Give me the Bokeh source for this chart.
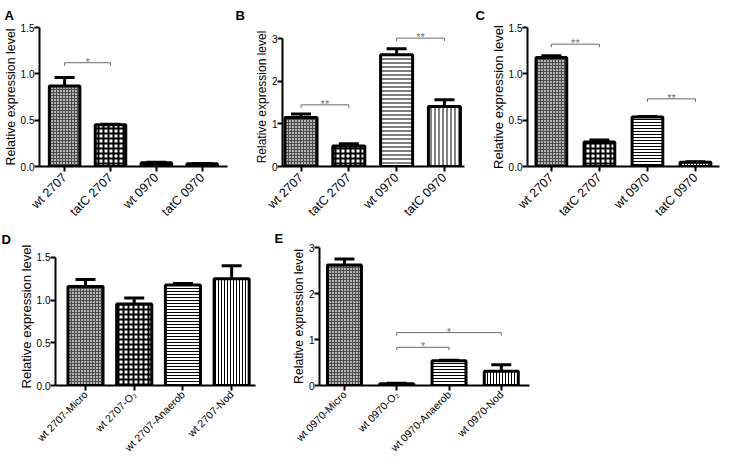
import math
from bokeh.plotting import figure
from bokeh.models import (Range1d, FixedTicker, NumeralTickFormatter, Whisker, TeeHead,
                          ColumnDataSource)
from bokeh.layouts import row, column
from bokeh.embed import file_html
from bokeh.resources import INLINE
from bokeh.core.properties import value

FONT = "Liberation Sans"
YTITLE = "Relative expression level"

# ---------------- data ----------------
a_labels = ["wt 2707", "tatC 2707", "wt 0970", "tatC 0970"]
a_means = [0.87, 0.45, 0.04, 0.03]
a_errs = [0.09, 0.005, 0.005, 0.003]
a_sig_from = [0]
a_sig_to = [1]
a_sig_y = [1.12]
a_sig_text = ["*"]
a_yticks = [0, 0.5, 1.0, 1.5]

b_labels = ["wt 2707", "tatC 2707", "wt 0970", "tatC 0970"]
b_means = [1.15, 0.48, 2.63, 1.41]
b_errs = [0.085, 0.055, 0.14, 0.16]
b_sig_from = [0, 2]
b_sig_to = [1, 3]
b_sig_y = [1.45, 3.02]
b_sig_text = ["**", "**"]
b_yticks = [0, 1, 2, 3]

c_labels = ["wt 2707", "tatC 2707", "wt 0970", "tatC 0970"]
c_means = [1.175, 0.265, 0.535, 0.045]
c_errs = [0.02, 0.02, 0.005, 0.005]
c_sig_from = [0, 2]
c_sig_to = [1, 3]
c_sig_y = [1.32, 0.73]
c_sig_text = ["**", "**"]
c_yticks = [0, 0.5, 1.0, 1.5]

d_labels = ["wt 2707-Micro", "wt 2707-O\u2082", "wt 2707-Anaerob", "wt 2707-Nod"]
d_means = [1.16, 0.955, 1.175, 1.25]
d_errs = [0.08, 0.07, 0.02, 0.15]
d_yticks = [0, 0.5, 1.0, 1.5]

e_labels = ["wt 0970-Micro", "wt 0970-O\u2082", "wt 0970-Anaerob", "wt 0970-Nod"]
e_means = [2.62, 0.04, 0.54, 0.31]
e_errs = [0.13, 0.01, 0.01, 0.14]
e_sig_from = [1, 1]
e_sig_to = [2, 3]
e_sig_y = [0.83, 1.15]
e_sig_text = ["*", "*"]
e_yticks = [0, 1, 2, 3]

# bar styles by position (fine grey mesh, checker, horizontal, vertical stripes)
PATTERNS = ["cross", "cross", "horizontal_line", "vertical_line"]
FILLS = ["#b4b4b4", "white", "white", "white"]
HCOLORS = ["#4c4c4c", "black", "black", "black"]
HWEIGHTS = [1, 2, 1, 1]


def panel(letter, labels, means, errs, yticks, y_end, x_start, x_end, width, height,
          mbl, mbr, mbt, mbb, letter_offset, letter_standoff, title_size,
          sig=None, xlab_size="12.5px", xlab_standoff=4, stripe=3, bar_w=0.67, cap=20,
          yfmt="0.0"):
    x = list(range(len(labels)))
    frame_h = height - mbt - mbb
    p = figure(width=width, height=height, x_range=Range1d(x_start, x_end),
               y_range=Range1d(0, y_end), output_backend="svg", toolbar_location=None,
               title=letter, min_border_left=mbl, min_border_right=mbr,
               min_border_top=mbt, min_border_bottom=mbb)
    p.background_fill_color = "white"
    p.border_fill_color = "white"
    p.outline_line_color = None
    p.xgrid.visible = False
    p.ygrid.visible = False

    src = ColumnDataSource(dict(
        x=x, top=means, upper=[m + e for m, e in zip(means, errs)],
        pat=PATTERNS, fc=FILLS, hc=HCOLORS, hw=HWEIGHTS, sc=[3, 5, stripe, stripe]))
    p.vbar(x="x", top="top", bottom=0, width=bar_w, source=src, fill_color="fc",
           line_color="black", line_width=3, hatch_pattern="pat", hatch_scale="sc",
           hatch_weight="hw", hatch_color="hc")
    p.add_layout(Whisker(source=src, base="x", lower="top", upper="upper",
                         dimension="height", line_width=3, line_color="black",
                         upper_head=TeeHead(size=cap, line_width=3, line_color="black"),
                         lower_head=None, level="annotation"))

    if sig is not None:
        f, t, ys, txt = sig
        d = 3.0 * y_end / frame_h
        xs = [[x[a], x[a], x[b], x[b]] for a, b in zip(f, t)]
        yy = [[y - d, y, y, y - d] for y in ys]
        p.multi_line(xs=xs, ys=yy, line_color="#6a6a6a", line_width=1)
        p.text(x=[(x[a] + x[b]) / 2 for a, b in zip(f, t)], y=ys, text=txt,
               text_align="center", text_baseline="alphabetic", text_color="#707070",
               text_font=value(FONT), text_font_size="11px", y_offset=-1)

    ax = p.xaxis[0]
    ax.ticker = FixedTicker(ticks=x)
    ax.major_label_overrides = {i: lab for i, lab in zip(x, labels)}
    ax.major_label_orientation = math.pi / 4
    ax.axis_line_width = 2
    ax.major_tick_line_width = 2
    ax.major_tick_out = 5
    ax.major_tick_in = 0
    ax.minor_tick_line_color = None
    ax.major_label_text_font = FONT
    ax.major_label_text_font_size = xlab_size
    ax.major_label_text_color = "black"
    ax.major_label_standoff = xlab_standoff

    ay = p.yaxis[0]
    ay.ticker = FixedTicker(ticks=yticks)
    ay.bounds = (0, yticks[-1])
    ay.formatter = NumeralTickFormatter(format=yfmt)
    ay.axis_line_width = 2
    ay.major_tick_line_width = 2
    ay.major_tick_out = 5
    ay.major_tick_in = 0
    ay.minor_tick_line_color = None
    ay.major_label_text_font = FONT
    ay.major_label_text_font_size = "10px"
    ay.major_label_text_color = "black"
    ay.major_label_standoff = 0
    ay.axis_label = YTITLE
    ay.axis_label_text_font = FONT
    ay.axis_label_text_font_style = "normal"
    ay.axis_label_text_font_size = title_size
    ay.axis_label_text_color = "black"
    ay.axis_label_standoff = 0

    p.title.text_font = FONT
    p.title.text_font_size = "13px"
    p.title.text_font_style = "bold"
    p.title.text_color = "black"
    p.title.align = "left"
    p.title.offset = letter_offset
    p.title.standoff = letter_standoff
    return p


pA = panel("A", a_labels, a_means, a_errs, a_yticks, 1.5, -0.547, 3.55, 232, 226,
           36, 5, 27, 60, -35, 10, "12.4px",
           sig=(a_sig_from, a_sig_to, a_sig_y, a_sig_text), bar_w=0.665)
pB = panel("B", b_labels, b_means, b_errs, b_yticks, 3.27, -0.387, 3.42, 240, 226,
           50, 8, 27, 60, -47, 10, "12px",
           sig=(b_sig_from, b_sig_to, b_sig_y, b_sig_text), stripe=4, bar_w=0.67, yfmt="0")
pC = panel("C", c_labels, c_means, c_errs, c_yticks, 1.5, -0.497, 3.5, 248, 226,
           55, 1, 27, 60, -52, 10, "13px",
           sig=(c_sig_from, c_sig_to, c_sig_y, c_sig_text), bar_w=0.64)
pD = panel("D", d_labels, d_means, d_errs, d_yticks, 1.615, -0.616, 3.49, 272, 234,
           55, 17, 21, 72, -54, 1, "13px",
           xlab_size="10.5px", xlab_standoff=2, bar_w=0.72)
pE = panel("E", e_labels, e_means, e_errs, e_yticks, 3.0, -0.478, 3.54, 448, 234,
           47, 191, 21, 72, -45, 3, "12.2px",
           sig=(e_sig_from, e_sig_to, e_sig_y, e_sig_text), xlab_size="10.5px",
           xlab_standoff=2, bar_w=0.65, yfmt="0")

layout = column(row(pA, pB, pC), row(pD, pE))
open("out.html", "w").write(file_html(layout, INLINE))
